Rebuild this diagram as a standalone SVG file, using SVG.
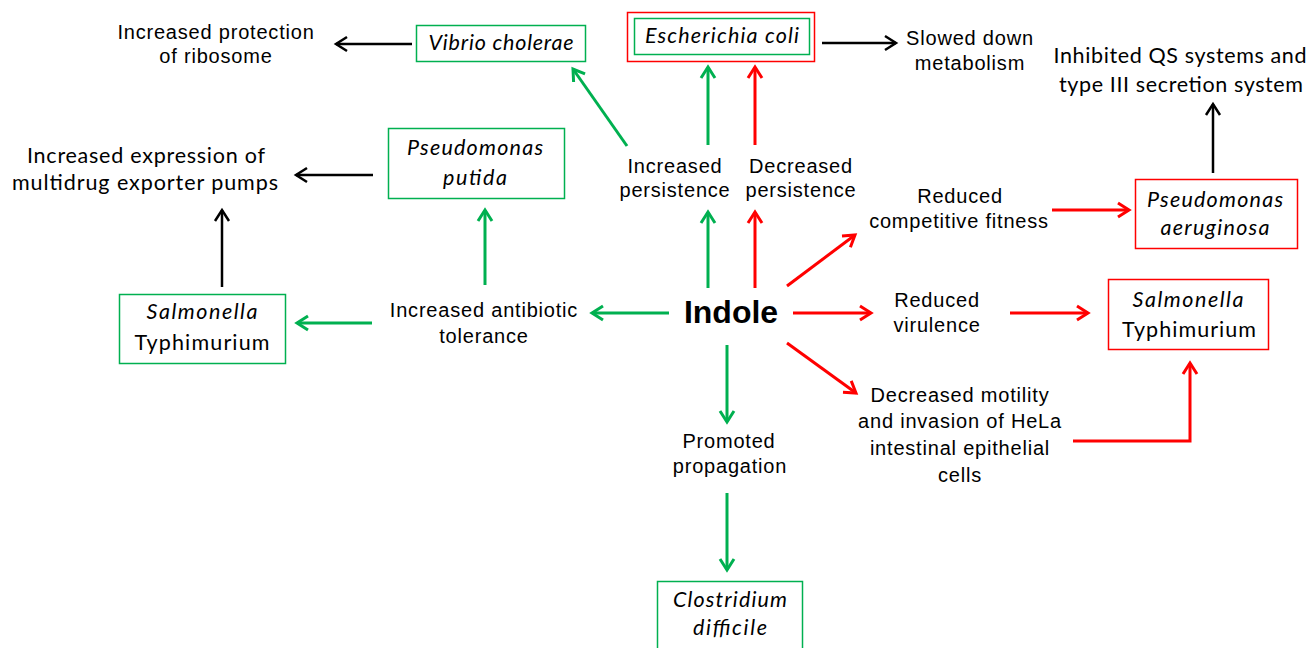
<svg xmlns="http://www.w3.org/2000/svg" width="1309" height="648" viewBox="0 0 1309 648">
<style>
.lbl{font-family:"Liberation Sans",Arial,sans-serif;font-size:20px;letter-spacing:0.8px;fill:#000;text-anchor:middle}
.cal{font-family:Lato,"Open Sans",sans-serif;font-size:21.5px;fill:#000;text-anchor:middle}
.it{font-style:italic}
.bg{fill:#fff;stroke:#00B050;stroke-width:1.5}
.br{fill:#fff;stroke:#FF0000;stroke-width:1.5}
.g{stroke:#00B050;stroke-width:3;fill:none;marker-end:url(#mg)}
.r{stroke:#FF0000;stroke-width:3;fill:none;marker-end:url(#mr)}
.k{stroke:#000;stroke-width:2.5;fill:none;marker-end:url(#mk)}
</style>
<defs>
<marker id="mg" markerUnits="userSpaceOnUse" viewBox="-15 -10 18 20" refX="0" refY="0" markerWidth="18" markerHeight="20" orient="auto"><path d="M-11,-7 L0,0 L-11,7" fill="none" stroke="#00B050" stroke-width="3"/></marker>
<marker id="mr" markerUnits="userSpaceOnUse" viewBox="-15 -10 18 20" refX="0" refY="0" markerWidth="18" markerHeight="20" orient="auto"><path d="M-11,-7 L0,0 L-11,7" fill="none" stroke="#FF0000" stroke-width="3"/></marker>
<marker id="mk" markerUnits="userSpaceOnUse" viewBox="-15 -10 18 20" refX="0" refY="0" markerWidth="18" markerHeight="20" orient="auto"><path d="M-11,-7 L0,0 L-11,7" fill="none" stroke="#000" stroke-width="2.5"/></marker>
</defs>
<rect width="1309" height="648" fill="#fff"/>

<g id="connectors">
<line class="k" x1="412" y1="44" x2="336" y2="44"/>
<line class="k" x1="822" y1="43" x2="896" y2="43"/>
<line class="k" x1="373" y1="175" x2="296" y2="175"/>
<line class="k" x1="222" y1="287" x2="222" y2="210"/>
<line class="k" x1="1213" y1="173" x2="1213" y2="104"/>
<line class="g" x1="669" y1="313" x2="592" y2="313"/>
<line class="g" x1="372" y1="323" x2="297" y2="323"/>
<line class="g" x1="485" y1="285" x2="485" y2="210"/>
<line class="g" x1="627" y1="146" x2="573" y2="69"/>
<line class="g" x1="708" y1="145" x2="708" y2="67"/>
<line class="g" x1="708" y1="288" x2="708" y2="212"/>
<line class="r" x1="755" y1="145" x2="755" y2="67"/>
<line class="r" x1="755" y1="288" x2="755" y2="212"/>
<line class="r" x1="787" y1="286" x2="855" y2="235"/>
<line class="r" x1="793" y1="313" x2="871" y2="313"/>
<line class="r" x1="787" y1="343" x2="856" y2="393"/>
<line class="g" x1="727" y1="345" x2="727" y2="422"/>
<line class="g" x1="727" y1="493" x2="727" y2="570"/>
<line class="r" x1="1010" y1="313" x2="1088" y2="313"/>
<line class="r" x1="1052" y1="210" x2="1129" y2="210"/>
<polyline class="r" points="1073,441 1190,441 1190,363"/>
</g>

<g id="indole"><text x="731" y="323" style="font-family:'Liberation Sans',Arial,sans-serif;font-size:32px;font-weight:bold;text-anchor:middle">Indole</text></g>

<g id="vibrio"><rect class="bg" x="416.5" y="25.5" width="169" height="36"/><text class="cal it" x="501" y="50" textLength="145" lengthAdjust="spacing">Vibrio cholerae</text></g>
<g id="ecoli"><rect class="br" x="627.5" y="12.5" width="187" height="49"/><rect class="bg" x="634.5" y="18.5" width="175" height="36"/><text class="cal it" x="722" y="43" textLength="154" lengthAdjust="spacing">Escherichia coli</text></g>
<g id="pputida"><rect class="bg" x="388.5" y="128.5" width="176" height="70"/><text class="cal it" x="475" y="155" textLength="136" lengthAdjust="spacing">Pseudomonas</text><text class="cal it" x="475" y="185" textLength="64" lengthAdjust="spacing">putida</text></g>
<g id="salmonella-green"><rect class="bg" x="119.5" y="294.5" width="166" height="69"/><text class="cal it" x="202" y="319" textLength="111" lengthAdjust="spacing">Salmonella</text><text class="cal" x="202" y="350" textLength="135" lengthAdjust="spacing">Typhimurium</text></g>
<g id="paeruginosa"><rect class="br" x="1135.5" y="179.5" width="162" height="69"/><text class="cal it" x="1215" y="207" textLength="136" lengthAdjust="spacing">Pseudomonas</text><text class="cal it" x="1215" y="235" textLength="109" lengthAdjust="spacing">aeruginosa</text></g>
<g id="salmonella-red"><rect class="br" x="1108.5" y="279.5" width="160" height="70"/><text class="cal it" x="1188" y="307" textLength="111" lengthAdjust="spacing">Salmonella</text><text class="cal" x="1189" y="337" textLength="134" lengthAdjust="spacing">Typhimurium</text></g>
<g id="clostridium"><rect class="bg" x="657.5" y="581.5" width="145" height="80"/><text class="cal it" x="730" y="607" textLength="114" lengthAdjust="spacing">Clostridium</text><text class="cal it" x="730" y="635" textLength="74" lengthAdjust="spacing">difficile</text></g>

<g id="ribosome"><text class="lbl" x="216" y="39">Increased protection</text><text class="lbl" x="216" y="63">of ribosome</text></g>
<g id="pumps"><text class="cal" x="146" y="163" textLength="238" lengthAdjust="spacing">Increased expression of</text><text class="cal" x="145" y="190" textLength="266" lengthAdjust="spacing">multidrug exporter pumps</text></g>
<g id="metabolism"><text class="lbl" x="970" y="45">Slowed down</text><text class="lbl" x="970" y="70">metabolism</text></g>
<g id="qs"><text class="cal" x="1180" y="63" textLength="253" lengthAdjust="spacing">Inhibited QS systems and</text><text class="cal" x="1181" y="92" textLength="244" lengthAdjust="spacing">type III secretion system</text></g>
<g id="inc-persistence"><text class="lbl" x="675" y="173">Increased</text><text class="lbl" x="675" y="197">persistence</text></g>
<g id="dec-persistence"><text class="lbl" x="801" y="173">Decreased</text><text class="lbl" x="801" y="197">persistence</text></g>
<g id="fitness"><text class="lbl" x="960" y="203">Reduced</text><text class="lbl" x="959" y="228">competitive fitness</text></g>
<g id="tolerance"><text class="lbl" x="484" y="317">Increased antibiotic</text><text class="lbl" x="484" y="343">tolerance</text></g>
<g id="virulence"><text class="lbl" x="937" y="307">Reduced</text><text class="lbl" x="937" y="332">virulence</text></g>
<g id="motility"><text class="lbl" x="960" y="402">Decreased motility</text><text class="lbl" x="960" y="428">and invasion of HeLa</text><text class="lbl" x="960" y="455">intestinal epithelial</text><text class="lbl" x="960" y="482">cells</text></g>
<g id="propagation"><text class="lbl" x="729" y="448">Promoted</text><text class="lbl" x="730" y="473">propagation</text></g>
</svg>
